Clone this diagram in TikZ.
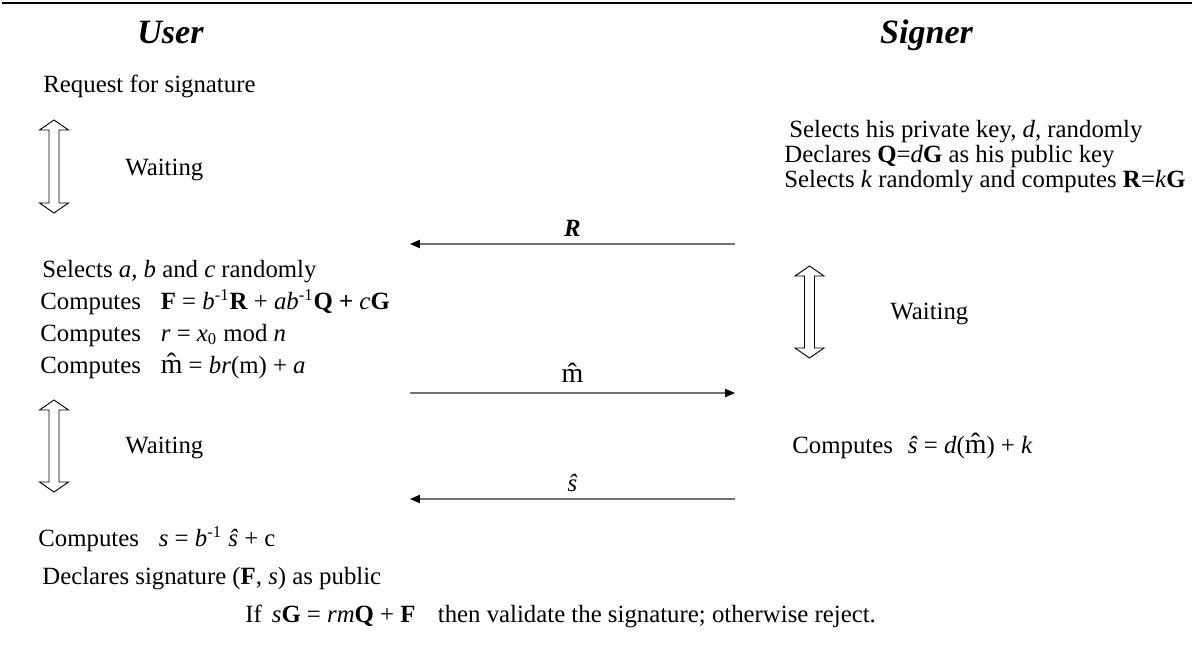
\documentclass[tikz,border=0pt]{standalone}
\usepackage{fontspec}
\setmainfont{Liberation Serif}
\usetikzlibrary{arrows.meta}

\tikzset{
  txt/.style={anchor=base west,inner sep=0pt,font=\fontsize{12}{14}\selectfont},
  role/.style={anchor=base,inner sep=0pt,font=\fontsize{16.5}{20}\selectfont\bfseries\itshape},
  lbl/.style={anchor=base,inner sep=0pt,font=\fontsize{12}{14}\selectfont,yshift=3.8pt},
  msg/.style={draw=black!55,line width=0.6pt,-{Triangle[length=4.8pt,width=4pt,color=black]}},
  waitarr/.style={draw=black,line width=0.45pt,line join=miter}
}

\begin{document}
\begin{tikzpicture}[x=0.4839pt,y=-0.4839pt]
\useasboundingbox (0,0) rectangle (1195,664);
% ---- heading ----
\draw[line width=1pt] (2,3) -- (1192,3);
\node[role] (user) at (170.5,43) {User};
\node[role] (signer) at (926.5,43) {Signer};
% ---- user side ----
\node[txt] (req) at (43,92) {Request for signature};
\node[txt] (uw1) at (125,175) {Waiting};
\node[txt] (sel) at (42,277) {Selects \textit{a, b} and \textit{c} randomly};
\node[txt] (cF) at (40,309) {Computes\hspace{0.8em}\textbf{F} = \textit{b}\textsuperscript{-1}\textbf{R} + \textit{ab}\textsuperscript{-1}\textbf{Q} \textbf{+} \textit{c}\textbf{G}};
\node[txt] (cr) at (40,341) {Computes\hspace{0.8em}\textit{r} = \textit{x}\textsubscript{0} mod \textit{n}};
\node[txt] (cm) at (40,373) {Computes\hspace{0.8em}{\fontsize{13.5}{14}\selectfont\^{m}} = \textit{br}(m) + \textit{a}};
\node[txt] (uw2) at (125,453) {Waiting};
\node[txt] (cs) at (38,546) {Computes\hspace{0.8em}\textit{s} = \textit{b}\textsuperscript{-1} \textit{\^{s}} + c};
\node[txt] (decl) at (42,584) {Declares signature (\textbf{F}, \textit{s}) as public};
% ---- signer side ----
\node[txt] (priv) at (789,137) {Selects his private key, \textit{d}, randomly};
\node[txt] (pub) at (784,162) {Declares \textbf{Q}=\textit{d}\textbf{G} as his public key};
\node[txt] (selk) at (784,187) {Selects \textit{k} randomly and computes \textbf{R}=\textit{k}\textbf{G}};
\node[txt] (sw) at (890,319) {Waiting};
\node[txt] (cshat) at (792,453) {Computes\hspace{0.6em}\textit{\^{s}} = \textit{d}({\fontsize{13.5}{14}\selectfont\^{m}}) + \textit{k}};
% ---- waiting arrows ----
\foreach \cx/\ty/\by in {54/120/213, 54/400/492, 809.5/266/358}
  \draw[waitarr] (\cx,\ty) -- ++(14.5,10) -- ++(-9.5,0) -- (\cx+5,\by-10) -- ++(9.5,0)
    -- (\cx,\by) -- ++(-14.5,-10) -- ++(9.5,0) -- (\cx-5,\ty+10) -- ++(-9.5,0) -- cycle;
% ---- messages ----
\coordinate (u1) at (410,244);
\coordinate (s1) at (735,244);
\coordinate (u2) at (410,393);
\coordinate (s2) at (735,393);
\coordinate (u3) at (410,499);
\coordinate (s3) at (735,499);
\draw[msg] (s1) -- (u1) node[lbl,midway] (mR) {\textbf{\textit{R}}};
\draw[msg] (u2) -- (s2) node[lbl,midway,yshift=1.2pt] (mm) {{\fontsize{13.5}{14}\selectfont\^{m}}};
\draw[msg] (s3) -- (u3) node[lbl,midway] (ms) {\textit{\^{s}}};
% ---- verification ----
\node[txt] (check) at (245,622) {If\hspace{0.4em}\textit{s}\textbf{G} = \textit{rm}\textbf{Q} + \textbf{F}\hspace{0.9em}then validate the signature; otherwise reject.};
\end{tikzpicture}
\end{document}
